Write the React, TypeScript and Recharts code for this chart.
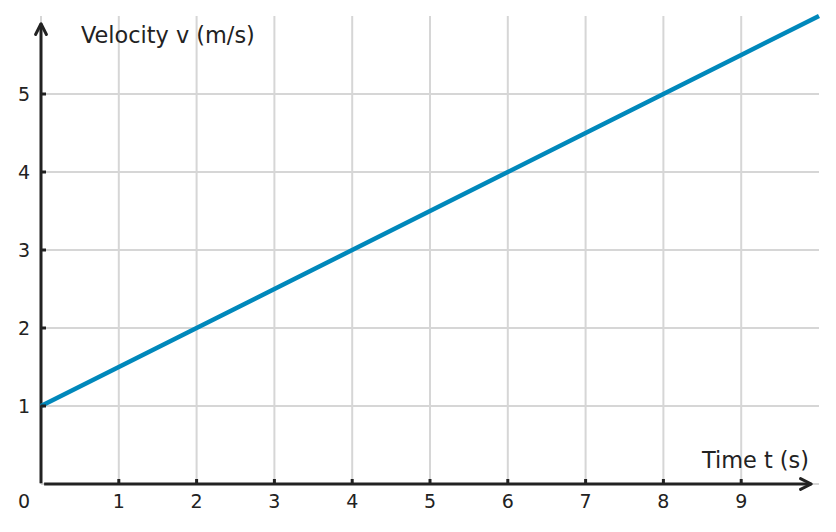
import { LineChart, Line, XAxis, YAxis, CartesianGrid, ReferenceLine, Label } from 'recharts';

// readings: velocity grows linearly from 1 m/s to 6 m/s over 10 s
const times = [0, 1, 2, 3, 4, 5, 6, 7, 8, 9, 10];
const velocities = [1, 1.5, 2, 2.5, 3, 3.5, 4, 4.5, 5, 5.5, 6];
const xTicks = [0, 1, 2, 3, 4, 5, 6, 7, 8, 9];
const yTicks = [0, 1, 2, 3, 4, 5];
const xLabel = 'Time t (s)';
const yLabel = 'Velocity v (m/s)';

const data = times.map((t, i) => ({ t, v: velocities[i] }));

const INK = '#222222';
const GRID = '#d6d6d6';
const FONT = '"DejaVu Sans", sans-serif';

function XTick({ x, y, payload }: any) {
  const v = payload.value;
  return (
    <g>
      {v !== 0 && <line x1={x} y1={y} x2={x} y2={y - 5} stroke={INK} strokeWidth={3} />}
      <text x={v === 0 ? x - 17 : x} y={y + 24} textAnchor="middle" fontSize={19} fill={INK} fontFamily={FONT}>
        {v}
      </text>
    </g>
  );
}

function YTick({ x, y, payload }: any) {
  const v = payload.value;
  if (v === 0) return null;
  return (
    <g>
      <line x1={x} y1={y} x2={x + 5} y2={y} stroke={INK} strokeWidth={3} />
      <text x={x - 17} y={y + 6.5} textAnchor="middle" fontSize={19} fill={INK} fontFamily={FONT}>
        {v}
      </text>
    </g>
  );
}

// axis line with an open chevron at the far end
function ArrowLine(props: any) {
  const { x1, y1, x2, y2 } = props;
  const a = Math.atan2(y2 - y1, x2 - x1);
  const len = 12;
  const spread = 0.47;
  const p1x = x2 - len * Math.cos(a - spread);
  const p1y = y2 - len * Math.sin(a - spread);
  const p2x = x2 - len * Math.cos(a + spread);
  const p2y = y2 - len * Math.sin(a + spread);
  return (
    <g>
      <line x1={x1} y1={y1} x2={x2} y2={y2} stroke={INK} strokeWidth={3} />
      <path
        d={`M${p1x},${p1y}L${x2},${y2}L${p2x},${p2y}`}
        fill="none"
        stroke={INK}
        strokeWidth={3}
        strokeLinecap="round"
        strokeLinejoin="round"
      />
    </g>
  );
}

export default function App() {
  return (
    <div style={{ position: 'absolute', left: 0, top: 0, background: '#fff' }}>
      <LineChart width={836} height={532} data={data} margin={{ top: 16, right: 17, left: 0, bottom: 0 }}>
        <CartesianGrid stroke={GRID} strokeWidth={2} syncWithTicks />
        <XAxis
          dataKey="t"
          type="number"
          domain={[0, 10]}
          ticks={xTicks}
          height={48}
          axisLine={false}
          tickLine={false}
          tickSize={0}
          tickMargin={0}
          tick={<XTick />}
          interval={0}
        >
          <Label
            content={({ viewBox }: any) => (
              <text
                x={viewBox.x + viewBox.width - 10}
                y={viewBox.y - 16}
                textAnchor="end"
                fontSize={22.4}
                fill={INK}
                fontFamily={FONT}
              >
                {xLabel}
              </text>
            )}
          />
        </XAxis>
        <YAxis
          type="number"
          domain={[0, 6]}
          ticks={yTicks}
          width={41}
          axisLine={false}
          tickLine={false}
          tickSize={0}
          tickMargin={0}
          tick={<YTick />}
          interval={0}
        >
          <Label
            content={({ viewBox }: any) => (
              <text
                x={viewBox.x + viewBox.width + 40}
                y={viewBox.y + 27}
                textAnchor="start"
                fontSize={22.4}
                fill={INK}
                fontFamily={FONT}
              >
                {yLabel}
              </text>
            )}
          />
        </YAxis>
        <ReferenceLine
          segment={[
            { x: 0.04, y: 0 },
            { x: 9.9, y: 0 },
          ]}
          shape={<ArrowLine />}
          ifOverflow="visible"
        />
        <ReferenceLine
          segment={[
            { x: 0, y: 0.01 },
            { x: 0, y: 5.9 },
          ]}
          shape={<ArrowLine />}
          ifOverflow="visible"
        />
        <Line
          type="linear"
          dataKey="v"
          stroke="#0088bb"
          strokeWidth={4.5}
          dot={false}
          isAnimationActive={false}
        />
      </LineChart>
    </div>
  );
}
